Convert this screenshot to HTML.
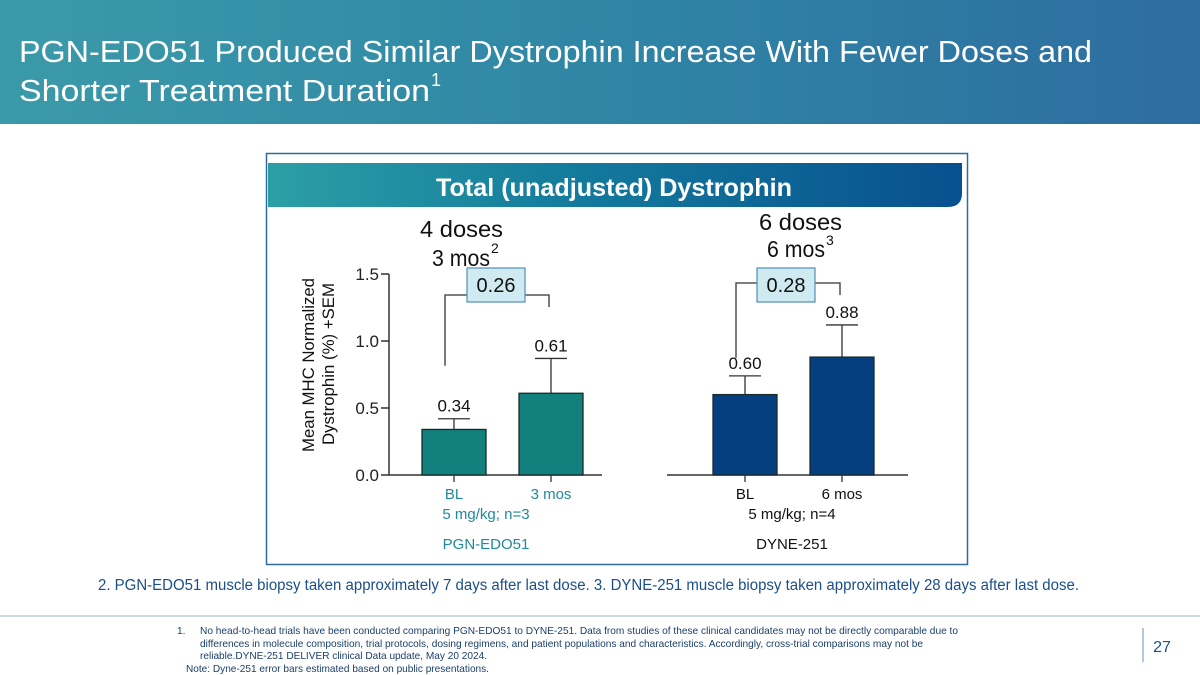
<!DOCTYPE html>
<html><head><meta charset="utf-8"><style>
body{margin:0;width:1200px;height:675px;overflow:hidden;background:#fff;font-family:"Liberation Sans",Arial,sans-serif;position:relative}
</style></head><body>
<div style="position:absolute;left:0;top:0;width:1200px;height:124px;background:linear-gradient(90deg,#3b9aa9 0%,#2f86a5 50%,#2e6da0 100%)"></div>
<svg id="chart" width="1200" height="675" style="position:absolute;left:0;top:0" xmlns="http://www.w3.org/2000/svg" font-family="Liberation Sans, Arial, sans-serif">
<defs><linearGradient id="hg" x1="0" x2="1"><stop offset="0" stop-color="#2c9fa6"/><stop offset="0.45" stop-color="#137a9c"/><stop offset="1" stop-color="#08508f"/></linearGradient></defs>
<g fill="#fff" font-size="31">
<text x="19" y="62" textLength="1073" lengthAdjust="spacingAndGlyphs">PGN-EDO51 Produced Similar Dystrophin Increase With Fewer Doses and</text>
<text x="19" y="101" textLength="411" lengthAdjust="spacingAndGlyphs">Shorter Treatment Duration</text>
<text x="431" y="86" font-size="18">1</text>
</g>
<rect x="266.5" y="153.5" width="701" height="411" fill="none" stroke="#2f6c9e" stroke-width="1.5"/>
<path d="M268 163 H962 V193 Q962 207 948 207 H268 Z" fill="url(#hg)"/>
<text x="436" y="196" textLength="356" lengthAdjust="spacingAndGlyphs" fill="#fff" font-size="25" font-weight="bold">Total (unadjusted) Dystrophin</text>
<g font-size="23" fill="#111">
<text x="420" y="237" textLength="83" lengthAdjust="spacingAndGlyphs">4 doses</text>
<text x="432" y="266" textLength="58" lengthAdjust="spacingAndGlyphs">3 mos</text>
<text x="491" y="253" font-size="14">2</text>
<text x="759" y="230" textLength="83" lengthAdjust="spacingAndGlyphs">6 doses</text>
<text x="767" y="257" textLength="58" lengthAdjust="spacingAndGlyphs">6 mos</text>
<text x="826" y="245" font-size="14">3</text>
</g>
<text transform="rotate(-90)" font-size="17" fill="#111"><tspan x="-452" y="314" textLength="174" lengthAdjust="spacingAndGlyphs">Mean MHC Normalized</tspan><tspan x="-445" y="334" textLength="162" lengthAdjust="spacingAndGlyphs">Dystrophin (%) +SEM</tspan></text>
<g id="plot"></g>
<g font-size="15" text-anchor="middle">
<text x="486" y="519" fill="#1f8a9a">5 mg/kg; n=3</text>
<text x="486" y="549" fill="#1f8a9a">PGN-EDO51</text>
<text x="792" y="519" fill="#111">5 mg/kg; n=4</text>
<text x="792" y="549" fill="#111">DYNE-251</text>
</g>
<text x="98" y="590" textLength="981" lengthAdjust="spacingAndGlyphs" font-size="15.5" fill="#1b4f8a">2. PGN-EDO51 muscle biopsy taken approximately 7 days after last dose. 3. DYNE-251 muscle biopsy taken approximately 28 days after last dose.</text>
<line x1="0" y1="616" x2="1200" y2="616" stroke="#a9c3cf" stroke-width="1.2"/>
<line x1="1143" y1="628" x2="1143" y2="662" stroke="#6b8fb0" stroke-width="1"/>
<text x="1162" y="652" text-anchor="middle" font-size="16" fill="#1b4f8a">27</text>
<g font-size="10.2" fill="#1b3f6a">
<text x="177" y="634">1.</text>
<text><tspan x="200" y="634" textLength="758" lengthAdjust="spacingAndGlyphs">No head-to-head trials have been conducted comparing PGN-EDO51 to DYNE-251. Data from studies of these clinical candidates may not be directly comparable due to</tspan><tspan x="200" y="647" textLength="723" lengthAdjust="spacingAndGlyphs">differences in molecule composition, trial protocols, dosing regimens, and patient populations and characteristics. Accordingly, cross-trial comparisons may not be</tspan><tspan x="200" y="659" textLength="287" lengthAdjust="spacingAndGlyphs">reliable.DYNE-251 DELIVER clinical Data update, May 20 2024.</tspan></text>
<text x="186" y="672" textLength="303" lengthAdjust="spacingAndGlyphs">Note: Dyne-251 error bars estimated based on public presentations.</text>
</g>
</svg>
<script>
const categories=["BL","3 mos","BL","6 mos"];
const values=[0.34,0.61,0.60,0.88];
const errTops=[0.42,0.87,0.74,1.12];
const yTicks=[0.0,0.5,1.0,1.5];
const diffLabels=["0.26","0.28"];
const NS="http://www.w3.org/2000/svg";
const g=document.getElementById('plot');
const y0=475,y1=274;
function y(v){return y0-(v/1.5)*(y0-y1);}
const barCenters=[454,551,745,842];
function mk(t,a){const e=document.createElementNS(NS,t);for(const k in a)e.setAttribute(k,a[k]);g.appendChild(e);return e;}
let ax=mk('line',{x1:389,y1:y(1.5),x2:389,y2:y0,stroke:'#333','stroke-width':1.5});


let bl=mk('line',{x1:389,y1:y0,x2:602,y2:y0,stroke:'#333','stroke-width':1.5});


let br=mk('line',{x1:667,y1:y0,x2:908,y2:y0,stroke:'#333','stroke-width':1.5});


yTicks.forEach(t=>{
 const l=mk('line',{x1:381,y1:y(t),x2:389,y2:y(t),stroke:'#333','stroke-width':1.5});
 
 
 const tx=mk('text',{x:379,y:y(t)+6,'text-anchor':'end','font-size':17,fill:'#222'});
 tx.textContent=t.toFixed(1);
 
 
});
values.forEach((v,i)=>{
 const c=barCenters[i],w=64,teal=i<2;
 const er=mk('line',{x1:c,y1:y(v),x2:c,y2:y(errTops[i]),stroke:'#333','stroke-width':1.3});
 
 
 const cap=mk('line',{x1:c-16,y1:y(errTops[i]),x2:c+16,y2:y(errTops[i]),stroke:'#333','stroke-width':1.3});
 
 
 const r=mk('rect',{x:c-w/2,y:y(v),width:w,height:y0-y(v),fill:teal?'#12807c':'#053f80',stroke:'#1a2a2a','stroke-width':1.3});
 
 
 const vl=mk('text',{x:c,y:y(errTops[i])-7,'text-anchor':'middle','font-size':17,fill:'#111'});
 vl.textContent=v.toFixed(2);
 
 
 const tk=mk('line',{x1:c,y1:y0,x2:c,y2:y0+7,stroke:'#333','stroke-width':1.3});
 
 
 const xl=mk('text',{x:c,y:499,'text-anchor':'middle','font-size':15,fill:teal?'#1f8a9a':'#111'});
 xl.textContent=categories[i];
 
 
});
[[0,1],[2,3]].forEach((p,k)=>{
 const a=barCenters[p[0]]-9,b=barCenters[p[1]]-2;
 const top=k===0?295:283;
 const la=k===0?y(errTops[0])-53:y(errTops[2])-18;
 const lb=top+12;
 const path=mk('path',{d:`M${a} ${la} V${top} H${b} V${lb}`,fill:'none',stroke:'#333','stroke-width':1.3});
 
 
 const cx=k===0?496:786;
 const bx=mk('rect',{x:cx-29,y:268,width:58,height:34,fill:'#cfeaf0',stroke:'#4f8fb8','stroke-width':1.2});
 
 
 const t=mk('text',{x:cx,y:292,'text-anchor':'middle','font-size':20,fill:'#111'});
 t.textContent=diffLabels[k];
 
 
});
</script>
</body></html>
